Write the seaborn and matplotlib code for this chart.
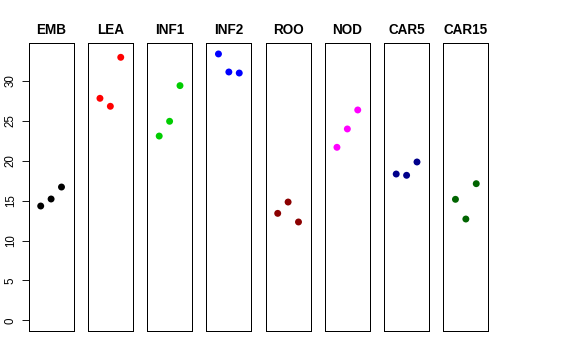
import matplotlib
matplotlib.use("Agg")
import matplotlib.pyplot as plt
import seaborn as sns
import pandas as pd

sns.set_style("white")
plt.rcParams['font.family'] = ['Liberation Sans', 'DejaVu Sans']
plt.rcParams['text.color'] = 'black'
plt.rcParams['axes.labelcolor'] = 'black'
plt.rcParams['xtick.color'] = 'black'
plt.rcParams['ytick.color'] = 'black'

tissues = ["EMB", "LEA", "INF1", "INF2", "ROO", "NOD", "CAR5", "CAR15"]
replicate = [1, 2, 3]
values = {
    "EMB":   [14.33, 15.21, 16.71],
    "LEA":   [27.83, 26.83, 32.97],
    "INF1":  [23.10, 24.95, 29.42],
    "INF2":  [33.39, 31.13, 31.00],
    "ROO":   [13.41, 14.83, 12.33],
    "NOD":   [21.69, 23.99, 26.37],
    "CAR5":  [18.34, 18.18, 19.85],
    "CAR15": [15.17, 12.70, 17.13],
}
colors = ["#000000", "#FF0000", "#00CD00", "#0000FF", "#8B0000", "#FF00FF", "#00008B", "#006400"]
yticks = [0, 5, 10, 15, 20, 25, 30]

rows = []
for t in tissues:
    for r, v in zip(replicate, values[t]):
        rows.append({"tissue": t, "rep": r, "value": v})
df = pd.DataFrame(rows)

W, H = 576, 360
fig = plt.figure(figsize=(W / 72, H / 72), dpi=72)
fig.patch.set_facecolor("white")

ymax = df["value"].max()
ylo, yhi = -0.04 * ymax, ymax * 1.04
left0, pw, step = 28.7, 44.8, 59.25
bottom_px, top_px = 331, 43.3

for i, t in enumerate(tissues):
    ax = fig.add_axes([(left0 + i * step) / W, (H - bottom_px) / H,
                       pw / W, (bottom_px - top_px) / H])
    sub = df[df["tissue"] == t]
    sns.scatterplot(data=sub, x="rep", y="value", ax=ax, color=colors[i],
                    s=48, edgecolor="none", linewidth=0, legend=False)
    ax.set_xlim(-0.155, 4.155)
    ax.set_ylim(ylo, yhi)
    ax.set_xticks([])
    ax.set_xlabel("")
    ax.set_ylabel("")
    for sp in ax.spines.values():
        sp.set_visible(True)
        sp.set_color("black")
        sp.set_linewidth(1.0)
    ax.set_title(t, fontsize=13.5, fontweight="bold", pad=9, color="black")
    if i == 0:
        ax.set_yticks(yticks)
        ax.set_yticklabels([str(v) for v in yticks], rotation=90, va="center",
                           fontsize=11.5, color="black")
        ax.tick_params(axis="y", left=True, length=7, width=0.9, pad=5, color="black")
    else:
        ax.set_yticks([])

fig.savefig("out.png", dpi=72, facecolor="white")
